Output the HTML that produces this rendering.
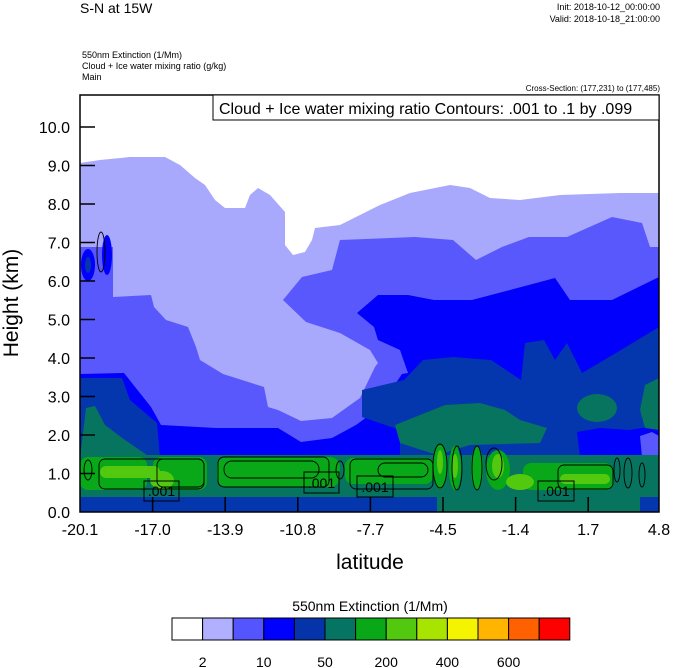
<!DOCTYPE html>
<html><head><meta charset="utf-8"><style>
body{margin:0;background:#fff;}
svg{display:block;font-family:"Liberation Sans",sans-serif;}
</style></head><body>
<svg width="674" height="668" viewBox="0 0 674 668" xmlns="http://www.w3.org/2000/svg">
<defs><clipPath id="pc"><rect x="80" y="95" width="579" height="417"/></clipPath></defs>
<g clip-path="url(#pc)">
<rect x="80" y="95" width="579" height="417" fill="#fff"/>
<path fill="#a8a8fc" d="M80,163 L100,160 L130,157 L165,157 L180,165 L195,178 L205,185 L215,200 L225,208 L245,208 L250,195 L258,188 L270,195 L285,212 L285,245 L293,255 L305,252 L312,240 L315,228 L340,225 L380,205 L410,193 L450,185 L470,188 L490,198 L520,200 L560,195 L620,193 L659,193 L659,512 L80,512 Z"/>
<path fill="#5858fc" d="M80,247 L113,247 L113,297 L151,295 L154,307 L166,320 L188,327 L196,347 L200,360 L223,374 L264,387 L268,407 L278,410 L301,421 L332,418 L360,398 L375,367 L378,363 L370,350 L340,333 L306,322 L283,300 L302,277 L332,270 L340,240 L415,237 L453,240 L476,260 L502,247 L529,237 L567,237 L612,217 L642,223 L650,247 L659,247 L659,512 L80,512 Z"/>
<path fill="#0000fc" d="M80,374 L124,373 L151,407 L161,425 L216,428 L278,428 L301,442 L332,438 L356,425 L379,408 L402,374 L408,373 L400,350 L378,340 L374,327 L357,313 L378,295 L408,295 L434,300 L472,300 L510,290 L555,278 L570,300 L612,300 L659,277 L659,512 L80,512 Z"/>
<path fill="#0436ae" d="M80,378 L122,378 L130,400 L157,423 L160,457 L330,457 L400,455 L400,430 L362,417 L362,390 L404,380 L423,360 L453,357 L491,360 L521,380 L525,343 L544,340 L555,360 L567,343 L582,373 L616,353 L659,327 L659,512 L80,512 Z"/>
<path fill="#0000fc" d="M577,432 L600,428 L630,430 L660,425 L660,457 L580,457 Z"/>
<path fill="#5858fc" d="M640,436 L652,432 L659,436 L659,457 L642,457 Z"/>
<ellipse cx="88" cy="265" rx="7" ry="16" fill="#0000fc"/><ellipse cx="88" cy="265" rx="3" ry="8" fill="#0436ae"/>
<ellipse cx="107" cy="255" rx="5" ry="20" fill="#0000fc"/>
<g fill="#06745e">
<path d="M395,425 L420,415 L445,405 L480,403 L505,410 L520,420 L547,428 L540,443 L470,445 L437,455 L400,443 Z"/>
<ellipse cx="597" cy="408" rx="20" ry="14"/>
<path d="M659,378 L645,385 L640,410 L645,428 L659,430 Z"/>
<path d="M86,408 L95,406 L105,425 L125,440 L147,455 L150,458 L80,458 Z"/>
<rect x="80" y="455" width="579" height="42"/>
<path d="M437,470 L640,470 L640,512 L437,512 Z"/>
</g>
<g fill="#08a818">
<rect x="80" y="457" width="67" height="33" rx="8"/>
<rect x="153" y="457" width="54" height="33" rx="8"/>
<rect x="217" y="457" width="123" height="30" rx="10"/>
<rect x="345" y="458" width="88" height="26" rx="8"/>
<ellipse cx="440" cy="467" rx="7" ry="22"/><ellipse cx="455" cy="468" rx="6" ry="22"/>
<ellipse cx="477" cy="468" rx="6" ry="22"/><ellipse cx="498" cy="470" rx="12" ry="20"/>
<rect x="523" y="463" width="90" height="27" rx="8"/>
</g>
<g fill="#52c80e">
<rect x="100" y="466" width="60" height="12" rx="6"/>
<ellipse cx="162" cy="480" rx="12" ry="9"/>
<ellipse cx="440" cy="462" rx="3" ry="12"/><ellipse cx="455" cy="466" rx="3" ry="12"/><ellipse cx="498" cy="466" rx="6" ry="12"/>
<ellipse cx="520" cy="482" rx="14" ry="8"/>
<rect x="560" y="474" width="50" height="10" rx="5"/>
</g>
<g fill="none" stroke="#000" stroke-width="0.9">
<rect x="99" y="459" width="105" height="30" rx="6"/>
<rect x="157" y="459" width="47" height="28" rx="6"/>
<rect x="218" y="457" width="111" height="30" rx="6"/>
<rect x="224" y="461" width="95" height="17" rx="8"/>
<rect x="350" y="459" width="83" height="30" rx="6"/>
<rect x="378" y="463" width="50" height="14" rx="7"/>
<rect x="558" y="465" width="55" height="24" rx="6"/>
<ellipse cx="440" cy="466" rx="7" ry="22"/><ellipse cx="457" cy="468" rx="5" ry="22"/>
<ellipse cx="477" cy="468" rx="5" ry="22"/><ellipse cx="494" cy="464" rx="8" ry="16"/>
<ellipse cx="88" cy="470" rx="4" ry="10"/><ellipse cx="340" cy="470" rx="4" ry="9"/>
<ellipse cx="617" cy="470" rx="3" ry="12"/><ellipse cx="628" cy="473" rx="4" ry="15"/><ellipse cx="642" cy="475" rx="3" ry="12"/>
<ellipse cx="101" cy="252" rx="4" ry="20"/>
</g>
<g font-size="14" text-anchor="middle">
<rect x="144" y="481" width="35" height="20" fill="none" stroke="#000"/><text x="161.5" y="496">.001</text>
<rect x="304" y="472" width="35" height="21" fill="none" stroke="#000"/><text x="321.5" y="488">.001</text>
<rect x="357" y="476" width="36" height="21" fill="none" stroke="#000"/><text x="375" y="492">.001</text>
<rect x="538" y="481" width="36" height="20" fill="none" stroke="#000"/><text x="556" y="496">.001</text>
</g>
</g>
<rect x="80" y="95" width="579" height="417" fill="none" stroke="#000" stroke-width="1.5"/>
<g stroke="#000" stroke-width="1.5">
<line x1="80" y1="473.5" x2="95" y2="473.5"/><line x1="80" y1="435" x2="95" y2="435"/><line x1="80" y1="396.5" x2="95" y2="396.5"/><line x1="80" y1="358" x2="95" y2="358"/><line x1="80" y1="319.5" x2="95" y2="319.5"/><line x1="80" y1="281" x2="95" y2="281"/><line x1="80" y1="242.5" x2="95" y2="242.5"/><line x1="80" y1="204" x2="95" y2="204"/><line x1="80" y1="165.5" x2="95" y2="165.5"/><line x1="80" y1="127" x2="95" y2="127"/>
<line x1="152.6" y1="512" x2="152.6" y2="497"/><line x1="225.2" y1="512" x2="225.2" y2="497"/><line x1="297.8" y1="512" x2="297.8" y2="497"/><line x1="370.4" y1="512" x2="370.4" y2="497"/><line x1="443" y1="512" x2="443" y2="497"/><line x1="515.6" y1="512" x2="515.6" y2="497"/><line x1="588.2" y1="512" x2="588.2" y2="497"/>
</g>
<rect x="213" y="95" width="446" height="25" fill="#fff" stroke="#000" stroke-width="1"/>
<text x="219" y="114" font-size="16">Cloud + Ice water mixing ratio Contours: .001 to .1 by .099</text>
<g font-size="16" text-anchor="end">
<text x="70" y="518">0.0</text><text x="70" y="479.5">1.0</text><text x="70" y="441">2.0</text><text x="70" y="402.5">3.0</text><text x="70" y="364">4.0</text><text x="70" y="325.5">5.0</text><text x="70" y="287">6.0</text><text x="70" y="248.5">7.0</text><text x="70" y="210">8.0</text><text x="70" y="171.5">9.0</text><text x="70" y="133">10.0</text>
</g>
<g font-size="16" text-anchor="middle">
<text x="80" y="535">-20.1</text><text x="152.6" y="535">-17.0</text><text x="225.2" y="535">-13.9</text><text x="297.8" y="535">-10.8</text><text x="370.4" y="535">-7.7</text><text x="443" y="535">-4.5</text><text x="515.6" y="535">-1.4</text><text x="588.2" y="535">1.7</text><text x="659" y="535">4.8</text>
</g>
<text x="370" y="569" font-size="21" text-anchor="middle">latitude</text>
<text transform="translate(18,303) rotate(-90)" font-size="21" text-anchor="middle">Height (km)</text>
<text x="80" y="13" font-size="14">S-N at 15W</text>
<text x="660" y="10" font-size="9" text-anchor="end">Init: 2018-10-12_00:00:00</text>
<text x="660" y="22" font-size="9" text-anchor="end">Valid: 2018-10-18_21:00:00</text>
<text x="82" y="58" font-size="9">550nm Extinction   (1/Mm)</text>
<text x="82" y="69" font-size="9">Cloud + Ice water mixing ratio   (g/kg)</text>
<text x="82" y="80" font-size="9">Main</text>
<text x="660" y="91" font-size="8" text-anchor="end">Cross-Section: (177,231) to (177,485)</text>
<text x="370" y="611" font-size="14" text-anchor="middle">550nm Extinction  (1/Mm)</text>
<g stroke="#000" stroke-width="1">
<rect x="172" y="618" width="30.6" height="22" fill="#ffffff"/><rect x="202.6" y="618" width="30.6" height="22" fill="#b0b0ff"/><rect x="233.2" y="618" width="30.6" height="22" fill="#5555ff"/><rect x="263.8" y="618" width="30.6" height="22" fill="#0000ff"/><rect x="294.4" y="618" width="30.6" height="22" fill="#0533aa"/><rect x="325" y="618" width="30.6" height="22" fill="#067462"/><rect x="355.6" y="618" width="30.6" height="22" fill="#08a818"/><rect x="386.2" y="618" width="30.6" height="22" fill="#52c80e"/><rect x="416.8" y="618" width="30.6" height="22" fill="#a8e400"/><rect x="447.4" y="618" width="30.6" height="22" fill="#f4f400"/><rect x="478" y="618" width="30.6" height="22" fill="#ffb400"/><rect x="508.6" y="618" width="30.6" height="22" fill="#ff6000"/><rect x="539.2" y="618" width="30.6" height="22" fill="#ff0000"/>
</g>
<g font-size="14" text-anchor="middle">
<text x="202.6" y="667">2</text><text x="263.8" y="667">10</text><text x="325" y="667">50</text><text x="386.2" y="667">200</text><text x="447.4" y="667">400</text><text x="508.6" y="667">600</text>
</g>
</svg>
</body></html>
